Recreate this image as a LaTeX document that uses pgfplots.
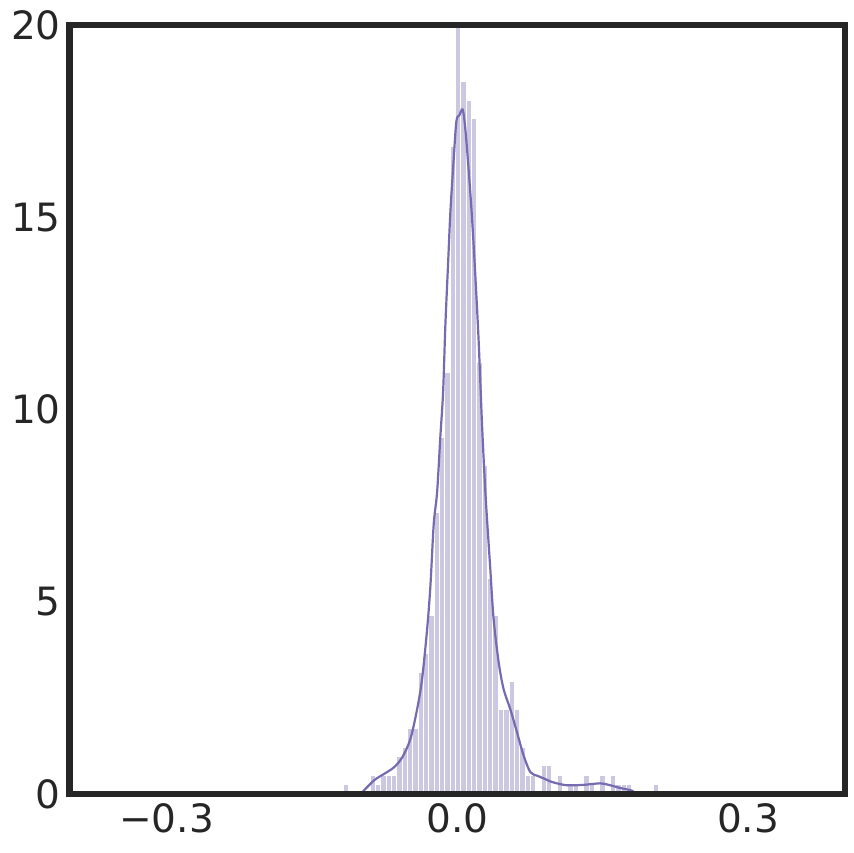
\documentclass[border=0pt]{standalone}
\usepackage{fontspec}
\setmainfont{DejaVu Sans}
\usepackage{pgfplots}
\pgfplotsset{compat=1.18}
\definecolor{axcol}{HTML}{262626}
\definecolor{barcol}{HTML}{CCC8E2}
\definecolor{kdecol}{HTML}{756BB1}

% histogram: left bin edges and densities (last row closes the final bin)
\pgfplotstableread{
x y
-0.11750 0.244
-0.11199 0
-0.10648 0
-0.10097 0
-0.09546 0
-0.08996 0.488
-0.08445 0.244
-0.07894 0.488
-0.07343 0.488
-0.06792 0.488
-0.06241 0.976
-0.05690 1.220
-0.05139 1.707
-0.04588 1.707
-0.04037 3.171
-0.03487 3.659
-0.02936 4.634
-0.02385 7.317
-0.01834 9.268
-0.01283 10.976
-0.00732 16.829
-0.00181 20.3
0.00370 18.537
0.00921 18.049
0.01472 17.561
0.02023 11.220
0.02573 8.537
0.03124 5.610
0.03675 4.634
0.04226 2.195
0.04777 2.195
0.05328 2.927
0.05879 2.195
0.06430 1.220
0.06981 0.488
0.07532 0.488
0.08082 0
0.08633 0.732
0.09184 0.732
0.09735 0
0.10286 0.488
0.10837 0
0.11388 0.244
0.11939 0.244
0.12490 0
0.13041 0.488
0.13591 0.244
0.14142 0
0.14693 0.488
0.15244 0
0.15795 0.488
0.16346 0.244
0.16897 0.244
0.17448 0.244
0.17999 0
0.18550 0
0.19100 0
0.19651 0
0.20202 0.244
0.20753 0
}\histdata

% kernel density estimate
\pgfplotstableread{
x y
-0.1000 0.00
-0.0863 0.35
-0.0760 0.52
-0.0657 0.69
-0.0570 0.95
-0.0485 1.43
-0.0415 2.21
-0.0364 2.99
-0.0312 4.29
-0.0278 5.42
-0.0244 7.02
-0.0209 7.85
-0.0175 9.32
-0.0147 10.46
-0.0124 12.18
-0.0096 13.78
-0.0072 15.14
-0.0038 16.51
-0.0010 17.50
0.0020 17.65
0.0055 17.80
0.0082 17.30
0.0116 16.25
0.0152 14.95
0.0186 13.45
0.0220 11.76
0.0255 9.58
0.0289 7.85
0.0323 6.50
0.0340 5.85
0.0374 4.55
0.0426 3.43
0.0477 2.73
0.0546 2.21
0.0615 1.61
0.0684 1.00
0.0753 0.57
0.0822 0.48
0.0890 0.41
0.0959 0.33
0.1028 0.28
0.1131 0.23
0.1302 0.24
0.1474 0.28
0.1577 0.23
0.1680 0.16
0.1801 0.09
0.1845 0.00
}\kdedata

\begin{document}
\begin{tikzpicture}
\begin{axis}[
  scale only axis,
  width=387.6pt,
  height=384.5pt,
  xmin=-0.4, xmax=0.4,
  ymin=0, ymax=20,
  xtick={-0.3,0,0.3},
  xticklabels={−0.3,0.0,0.3},
  ytick={0,5,10,15,20},
  yticklabels={0,5,10,15,20},
  major tick length=0pt,
  axis line style={line width=3.25pt, color=axcol},
  axis on top,
  ticklabel style={font=\fontsize{19.5}{23}\selectfont, text=axcol},
  yticklabel style={xshift=-1pt},
  xticklabel style={yshift=-1pt},
]
\addplot[ybar interval, fill=barcol, draw=white, line width=0.5pt] table {\histdata};
\addplot[smooth, kdecol, line width=1.1pt] table {\kdedata};
\path (rel axis cs:-0.0899,-0.0754) coordinate (bl)
      (rel axis cs:1.0116,1.0325) coordinate (tr);
\end{axis}
\pgfresetboundingbox
\useasboundingbox (bl) rectangle (tr);
\end{tikzpicture}
\end{document}
